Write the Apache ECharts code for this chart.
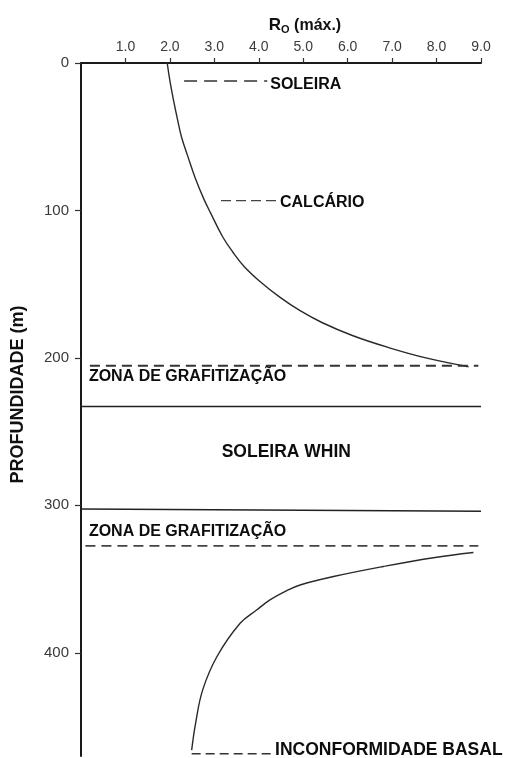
<!DOCTYPE html>
<html>
<head>
<meta charset="utf-8">
<script src="https://cdn.jsdelivr.net/npm/echarts@6/dist/echarts.min.js"></script>
<style>
html,body{margin:0;padding:0;background:#fff;}
#c{width:511px;height:758px;}
</style>
</head>
<body>
<div id="c"></div>
<script>
// ---- data ----
var xTicks = [1, 2, 3, 4, 5, 6, 7, 8, 9];
var xTickLabels = ['1.0', '2.0', '3.0', '4.0', '5.0', '6.0', '7.0', '8.0', '9.0'];
var yTicks = [0, 100, 200, 300, 400];
var yTickLabels = ['0', '100', '200', '300', '400'];

// Ro (max) vs depth (m), upper curve (above Whin Sill)
var upperRo    = [1.94, 2.00, 2.08, 2.17, 2.26, 2.40, 2.57, 2.76, 2.92, 3.19, 3.41, 3.67, 4.02, 4.48, 4.93, 5.42, 6.12, 6.92, 7.76, 8.72];
var upperDepth = [0,    12,   25,   38,   50,   63,   78,   92,   102,  118,  128,  138,  148,  159,  168,  176,  185,  193,  200,  206];

// lower curve (below Whin Sill)
var lowerRo    = [8.83, 7.93,  6.80,  5.68,  4.93, 4.62, 4.26, 3.95, 3.58, 3.06,  2.74, 2.58,  2.49];
var lowerDepth = [332,  335.5, 341.5, 348.3, 354,  358,  364,  371,  380,  402.5, 425,  447.5, 466];

// horizontal reference lines: [x0, x1, depthLeft, depthRight]
var soleiraLine   = [2.32, 4.19, 12.2, 12.2];
var calcarioLine  = [3.15, 4.41, 93.3, 93.3];
var grafit1Line   = [0.20, 8.94, 205.4, 205.4];
var whinTopLine   = [0.00, 9.00, 233, 233];
var whinBaseLine  = [0.00, 9.00, 302.5, 304];
var grafit2Line   = [0.10, 8.94, 327.5, 327.5];
var basalLine     = [2.49, 4.30, 468.5, 468.5];

// annotations
var annoText  = ['SOLEIRA', 'CALCÁRIO', 'ZONA DE GRAFITIZAÇÃO', 'SOLEIRA WHIN', 'ZONA DE GRAFITIZAÇÃO', 'INCONFORMIDADE BASAL'];
var annoX     = [4.19, 4.41, 0.11, 4.62, 0.11, 4.30];
var annoDepth = [14.5, 94.5, 212.7, 264.2, 317.8, 466];
var annoAlign = ['left', 'left', 'left', 'center', 'left', 'left'];
var annoSize  = [16, 16, 16, 17.5, 16, 17.5];

// ---- build ----
function zip(a, b) { return a.map(function (v, i) { return [v, b[i]]; }); }
function seg(s) { return [[s[0], s[2]], [s[1], s[3]]]; }

var INK = '#1a1a1a';
var LBL = "'Liberation Sans', Arial, sans-serif";

function lineSeries(data, opts) {
  return {
    type: 'line', data: data, symbol: 'none', silent: true,
    smooth: opts.smooth || false,
    lineStyle: { color: opts.color || INK, width: opts.width || 1.5, type: opts.type || 'solid' },
    z: 3
  };
}

var series = [
  lineSeries(zip(upperRo, upperDepth), { smooth: 0.4, width: 1.4, color: '#2a2a2a' }),
  lineSeries(zip(lowerRo, lowerDepth), { smooth: 0.4, width: 1.4, color: '#2a2a2a' }),
  lineSeries(seg(soleiraLine), { type: [13, 7], width: 1.3, color: '#333' }),
  lineSeries(seg(calcarioLine), { type: [10, 5], width: 1.3, color: '#444' }),
  lineSeries(seg(grafit1Line), { type: [10, 6], width: 2, color: '#333' }),
  lineSeries(seg(whinTopLine), { width: 1.6, color: '#222' }),
  lineSeries(seg(whinBaseLine), { width: 1.6, color: '#222' }),
  lineSeries(seg(grafit2Line), { type: [10, 6], width: 1.6, color: '#444' }),
  lineSeries(seg(basalLine), { type: [9, 5], width: 1.6, color: '#333' }),
  {
    type: 'scatter', silent: true, symbolSize: 0, z: 5,
    itemStyle: { opacity: 1 },
    data: annoText.map(function (t, i) {
      return {
        value: [annoX[i], annoDepth[i]],
        itemStyle: { opacity: 1 },
        label: {
          show: true, formatter: t,
          position: annoAlign[i] === 'center' ? 'inside' : 'right',
          distance: 3,
          align: annoAlign[i],
          color: '#0d0d0d', fontFamily: LBL, fontWeight: 'bold', fontSize: annoSize[i]
        }
      };
    })
  }
];

var chart = echarts.init(document.getElementById('c'), null, { renderer: 'canvas' });
chart.setOption({
  animation: false,
  backgroundColor: '#fff',
  grid: { left: 81, right: 30, top: 63, bottom: 2, containLabel: false },
  xAxis: {
    type: 'value', position: 'top', min: 0, max: 9, interval: 1,
    name: '{r|R}{o|O}{t| (máx.)}',
    nameLocation: 'middle', nameGap: 25,
    nameTextStyle: {
      padding: [0, 0, 0, 48],
      rich: {
        r: { fontFamily: LBL, fontWeight: 'bold', fontSize: 17, color: '#111' },
        o: { fontFamily: LBL, fontWeight: 'bold', fontSize: 11, color: '#111', verticalAlign: 'bottom', padding: [8, 0, 0, 0] },
        t: { fontFamily: LBL, fontWeight: 'bold', fontSize: 16, color: '#111' }
      }
    },
    axisLine: { show: true, onZero: false, lineStyle: { color: INK, width: 2 } },
    axisTick: { show: true, inside: false, length: 5, customValues: xTicks, lineStyle: { color: '#333', width: 1.2 } },
    axisLabel: {
      show: true, margin: 9, customValues: xTicks,
      formatter: function (v) { var i = xTicks.indexOf(v); return i >= 0 ? xTickLabels[i] : ''; },
      fontFamily: LBL, fontSize: 14, color: '#3a3a3a'
    },
    splitLine: { show: false }
  },
  yAxis: {
    type: 'value', inverse: true, min: 0, max: 470, interval: 100,
    name: 'PROFUNDIDADE (m)', nameLocation: 'middle', nameGap: 54, nameRotate: 90,
    nameTextStyle: { fontFamily: LBL, fontWeight: 'bold', fontSize: 18, color: '#111', padding: [0, 0, 0, 30] },
    axisLine: { show: true, onZero: false, lineStyle: { color: INK, width: 2 } },
    axisTick: { show: true, inside: false, length: 6, customValues: yTicks, lineStyle: { color: '#333', width: 1.2 } },
    axisLabel: {
      show: true, margin: 12, customValues: yTicks,
      formatter: function (v) { var i = yTicks.indexOf(v); return i >= 0 ? yTickLabels[i] : ''; },
      fontFamily: LBL, fontSize: 15, color: '#3a3a3a'
    },
    splitLine: { show: false }
  },
  series: series
});
</script>
</body>
</html>
